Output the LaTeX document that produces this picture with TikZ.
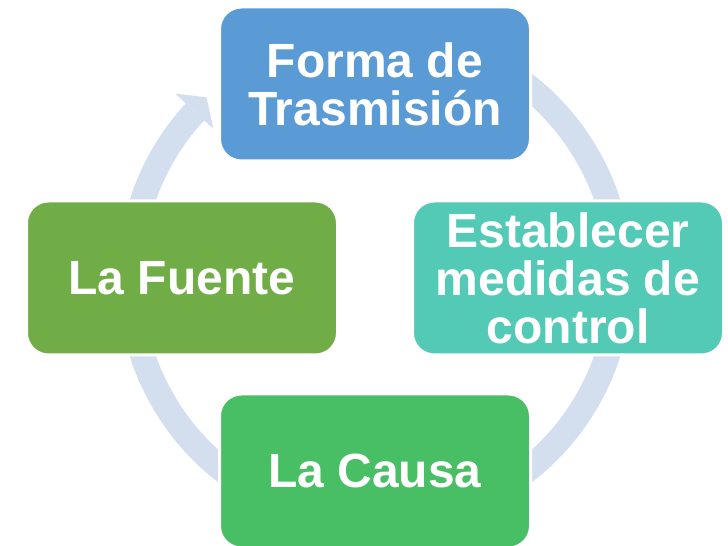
\documentclass[tikz,border=0pt]{standalone}
\usepackage{fontspec}
\setmainfont{Liberation Sans}
\definecolor{ringc}{RGB}{211,222,239}
\definecolor{cblue}{RGB}{91,155,213}
\definecolor{cteal}{RGB}{82,202,182}
\definecolor{cgreen}{RGB}{72,191,101}
\definecolor{colive}{RGB}{112,173,71}
\begin{document}
\begin{tikzpicture}[x=1pt,y=1pt,
  box/.style={rounded corners=22pt, draw=white, line width=3pt, minimum width=311pt, minimum height=154pt,
    align=center, text=white, font=\bfseries\fontsize{48}{48}\selectfont, inner sep=0pt},
  ring/.style={draw=ringc, line width=25pt}]
\useasboundingbox (0,0) rectangle (728,546);
\clip (0,0) rectangle (728,546);
\begin{scope}[shift={(375,268)}]
  \draw[ring] (120:245) arc[start angle=120, end angle=-222.7, radius=245];
  \fill[ringc] (137.3:220) -- (133:247) -- (137.3:272) -- cycle;
\end{scope}
\node[box, fill=cblue]  (forma)  at (375,462)   {Forma de\\Trasmisión};
\node[box, fill=cteal]  (medidas) at (568,268)  {Establecer\\medidas de\\control};
\node[box, fill=cgreen] (causa)  at (375,75)    {La Causa};
\node[box, fill=colive] (fuente) at (182,268)   {La Fuente};
\end{tikzpicture}
\end{document}
